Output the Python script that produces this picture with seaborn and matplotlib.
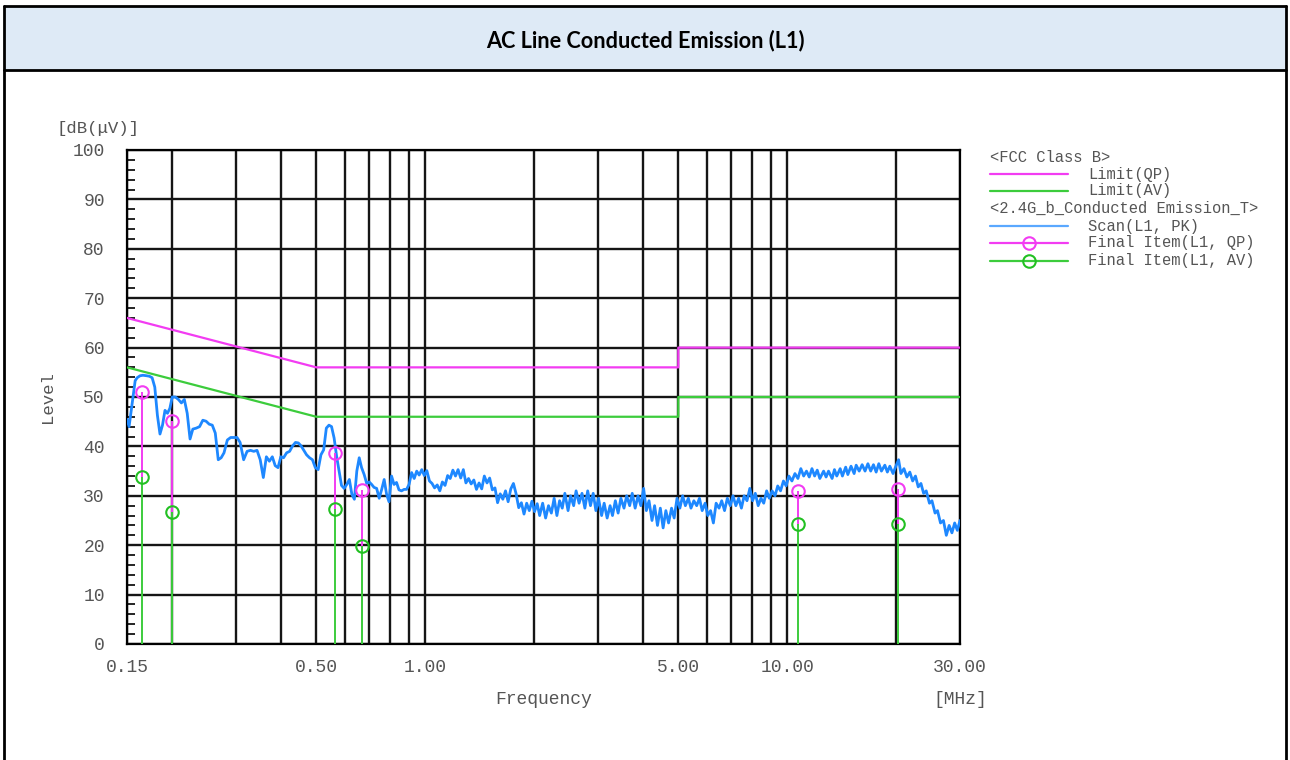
import numpy as np
import pandas as pd
import matplotlib
matplotlib.use("Agg")
import matplotlib.pyplot as plt
import seaborn as sns
from matplotlib.patches import Rectangle
from matplotlib.lines import Line2D
from matplotlib.ticker import FixedLocator, FixedFormatter, NullFormatter, MultipleLocator, LogLocator

# ---------------- data ----------------
title = "AC Line Conducted Emission (L1)"

# FCC Class B limits (MHz, dBuV)
limit_qp_freq = [0.15, 0.5, 5.0, 5.0, 30.0]
limit_qp_level = [66.0, 56.0, 56.0, 60.0, 60.0]
limit_av_freq = [0.15, 0.5, 5.0, 5.0, 30.0]
limit_av_level = [56.0, 46.0, 46.0, 50.0, 50.0]

# Final measurement items
final_freq = [0.165, 0.200, 0.564, 0.670, 10.73, 20.27]
final_qp = [51.1, 45.1, 38.6, 31.2, 31.0, 31.3]
final_av = [33.8, 26.8, 27.3, 19.9, 24.3, 24.3]

# Peak scan (L1, PK)
scan_freq_low = [
    0.150, 0.152, 0.155, 0.158, 0.160, 0.163, 0.166, 0.170, 0.173, 0.176,
    0.179, 0.182, 0.185, 0.188, 0.191, 0.194, 0.197, 0.200,
    0.204, 0.208, 0.212, 0.216, 0.220, 0.224, 0.228, 0.233, 0.238, 0.243,
    0.248, 0.253, 0.258, 0.263, 0.268, 0.273, 0.278, 0.284, 0.290, 0.296, 0.302,
    0.308, 0.315, 0.322, 0.329, 0.336, 0.343, 0.350, 0.357, 0.364, 0.371,
    0.378, 0.385, 0.392, 0.399, 0.406,
    0.414, 0.422, 0.430, 0.438, 0.446, 0.454, 0.462, 0.470, 0.479, 0.488,
    0.497, 0.506, 0.515, 0.524, 0.533, 0.542,
]
scan_level_low = [
    45.5, 44.0, 48.7, 53.3, 53.9, 54.3, 54.4, 54.3, 54.2, 53.9,
    52.0, 46.3, 42.5, 44.3, 47.3, 46.7, 47.7, 50.0,
    50.0, 49.5, 48.8, 49.5, 46.7, 41.5, 43.5, 43.7, 44.0, 45.3,
    45.1, 44.5, 44.3, 42.7, 37.3, 37.7, 38.7, 41.3, 41.8, 41.8, 41.8,
    40.8, 37.3, 39.0, 39.2, 39.0, 39.2, 37.3, 33.7, 37.9, 37.0,
    37.9, 36.1, 35.7, 37.9, 37.7,
    38.7, 39.0, 40.1, 40.8, 40.7, 40.1, 39.2, 38.3, 37.7, 37.3,
    35.7, 35.3, 38.3, 39.3, 43.7, 44.3,
]
scan_freq_mid = [
    0.551, 0.560, 0.569, 0.578, 0.587, 0.597, 0.607, 0.617, 0.627, 0.637,
    0.647, 0.657, 0.667, 0.678, 0.689, 0.700, 0.711, 0.722, 0.734, 0.746,
    0.758, 0.770, 0.782, 0.794, 0.807, 0.820, 0.833, 0.846, 0.860, 0.874,
    0.888, 0.902, 0.917, 0.932, 0.947, 0.962, 0.978, 0.994, 1.010, 1.027,
    1.044, 1.061, 1.079, 1.097, 1.115, 1.134, 1.153, 1.172, 1.192, 1.212,
    1.232, 1.253, 1.274, 1.295, 1.317, 1.339, 1.362, 1.385, 1.408, 1.432,
    1.456, 1.481, 1.506, 1.532, 1.558, 1.584, 1.611, 1.638, 1.666, 1.694,
    1.723, 1.752, 1.782, 1.812, 1.843, 1.874, 1.906, 1.938, 1.971, 2.004,
    2.038,
]
scan_level_mid = [
    44.0, 41.7, 38.0, 35.0, 32.1, 31.5, 32.3, 33.3, 30.3, 29.3,
    35.0, 37.7, 35.7, 34.3, 32.5, 32.8, 32.3, 31.7, 31.5, 29.5,
    31.3, 33.3, 30.3, 28.8, 34.0, 32.3, 32.7, 31.2, 31.0, 31.3,
    31.3, 32.3, 34.7, 33.5, 35.0, 34.2, 35.3, 34.1, 35.1, 33.0,
    32.5, 31.6, 32.2, 31.0, 32.8, 32.1, 34.1, 33.5, 35.2, 34.0,
    35.3, 33.6, 35.3, 32.6, 33.5, 32.4, 33.2, 31.3, 32.6, 31.4,
    34.0, 32.6, 33.6, 31.2, 31.6, 28.6, 30.4, 29.3, 31.0, 28.8,
    31.4, 32.5, 30.4, 27.6, 28.6, 26.3, 28.5, 27.0, 28.9, 26.8,
    28.4,
]
scan_freq_high = [
    2.07, 2.11, 2.15, 2.19, 2.23, 2.27, 2.31, 2.35, 2.39, 2.43,
    2.48, 2.52, 2.57, 2.61, 2.66, 2.71, 2.76, 2.81, 2.86, 2.91,
    2.96, 3.01, 3.07, 3.12, 3.18, 3.24, 3.29, 3.35, 3.41, 3.47,
    3.54, 3.60, 3.67, 3.73, 3.80, 3.87, 3.94, 4.01, 4.08, 4.15,
    4.23, 4.30, 4.38, 4.46, 4.54, 4.62, 4.70, 4.79, 4.87, 4.96,
    5.05, 5.14, 5.23, 5.33, 5.42, 5.52, 5.62, 5.72, 5.82, 5.93,
    6.03, 6.14, 6.25, 6.36, 6.48, 6.59, 6.71, 6.83, 6.96, 7.08,
    7.21, 7.34, 7.47, 7.60, 7.74, 7.88, 8.02, 8.16, 8.31, 8.46,
    8.61, 8.77, 8.92, 9.08, 9.25, 9.41, 9.58, 9.76, 9.93, 10.1,
    10.3, 10.5, 10.7, 10.9, 11.1, 11.3, 11.5, 11.7, 11.9, 12.1,
    12.3, 12.6, 12.8, 13.0, 13.3, 13.5, 13.7, 14.0, 14.2, 14.5,
    14.7, 15.0, 15.3, 15.5, 15.8, 16.1, 16.4, 16.7, 17.0, 17.3,
    17.6, 17.9, 18.2, 18.6, 18.9, 19.2, 19.6, 19.9, 20.3, 20.6,
    21.0, 21.4, 21.8, 22.2, 22.6, 23.0, 23.4, 23.8, 24.2, 24.7,
    25.1, 25.6, 26.0, 26.5, 27.0, 27.5, 28.0, 28.5, 29.0, 29.5,
    30.0,
]
scan_level_high = [
    26.0, 28.5, 25.5, 28.0, 26.5, 29.5, 26.0, 29.0, 27.5, 30.5,
    27.0, 30.0, 28.0, 31.0, 28.5, 30.5, 27.5, 31.0, 28.0, 30.5,
    27.0, 29.5, 26.0, 28.5, 25.5, 28.0, 26.0, 29.0, 26.5, 29.5,
    27.5, 30.0, 28.0, 30.5, 27.5, 30.0, 28.0, 31.5, 27.0, 29.0,
    25.0, 28.0, 24.0, 27.5, 23.5, 27.0, 24.5, 27.5, 25.5, 29.5,
    27.5, 30.0, 28.0, 29.5, 27.5, 29.0, 28.0, 29.5, 27.0, 28.5,
    26.0, 27.0, 24.5, 28.5, 27.5, 29.0, 27.0, 29.5, 28.0, 30.0,
    28.0, 29.5, 27.5, 30.0, 29.0, 31.5, 29.0, 30.5, 28.0, 29.5,
    28.5, 31.0, 29.5, 31.0, 30.0, 32.0, 31.0, 33.0, 32.0, 34.0,
    33.0, 34.5, 33.5, 35.5, 34.0, 35.0, 33.8, 35.5, 34.0, 35.2,
    33.5, 35.0, 33.8, 35.0, 33.5, 35.3, 34.0, 35.5, 34.0, 35.8,
    34.3, 36.0, 34.5, 36.2, 35.0, 36.3, 35.0, 36.5, 35.0, 36.3,
    34.8, 36.5, 35.0, 36.2, 34.8, 36.0, 34.5, 35.8, 37.3, 34.5,
    35.5, 33.8, 34.8, 33.0, 34.0, 31.8, 32.5, 30.5, 31.0, 28.5,
    29.0, 26.5, 27.0, 24.5, 25.0, 22.0, 24.0, 22.5, 24.5, 23.0,
    25.0,
]

xtick_values = [0.15, 0.5, 1.0, 5.0, 10.0, 30.0]
xtick_labels = ["0.15", "0.50", "1.00", "5.00", "10.00", "30.00"]

legend_rows = [
    ("header", "<FCC Class B>"),
    ("qp_limit", "Limit(QP)"),
    ("av_limit", "Limit(AV)"),
    ("header", "<2.4G_b_Conducted Emission_T>"),
    ("scan", "Scan(L1, PK)"),
    ("qp_final", "Final Item(L1, QP)"),
    ("av_final", "Final Item(L1, AV)"),
]

# ---------------- style ----------------
MAGENTA = "#f23cf2"
GREEN = "#3ccc3c"
GREEN_MK = "#22c022"
BLUE = "#1e88ff"
GRID = "#151515"
TXT = "#555555"

sns.set_theme(style="white")
plt.rcParams["font.family"] = ["Liberation Mono", "DejaVu Sans"]

W, H = 1290, 760
fig = plt.figure(figsize=(W / 100, H / 100), dpi=100)


def fx(px):
    return px / W


def fy(py):
    return 1 - py / H


# table-like frame
fig.patches.append(Rectangle((fx(4), fy(70)), (1286 - 4) / W, (70 - 6) / H,
                             transform=fig.transFigure, facecolor="#deeaf6",
                             edgecolor="none", zorder=0))
for (x0, y0, x1, y1) in [(4, 6, 1286, 6), (4, 70, 1286, 70), (4, 6, 4, 765), (1286, 6, 1286, 765)]:
    fig.add_artist(Line2D([fx(x0), fx(x1)], [fy(y0), fy(y1)], transform=fig.transFigure,
                          color="black", lw=2.0))
fig.text(0.5, fy(41), title, ha="center", va="center", family=["Lato", "DejaVu Sans"],
         weight="bold", size=15.6, color="black")

# main axes
ax = fig.add_axes([fx(127), fy(644), (960 - 127) / W, (644 - 150) / H])
ax.set_xscale("log")

scan_df = pd.DataFrame({
    "freq": scan_freq_low + scan_freq_mid + scan_freq_high,
    "level": scan_level_low + scan_level_mid + scan_level_high,
})
sns.lineplot(data=scan_df, x="freq", y="level", ax=ax, color=BLUE, lw=2.0,
             sort=False, estimator=None, zorder=3)
sns.lineplot(x=limit_qp_freq, y=limit_qp_level, ax=ax, color=MAGENTA, lw=1.6,
             sort=False, estimator=None, zorder=4)
sns.lineplot(x=limit_av_freq, y=limit_av_level, ax=ax, color=GREEN, lw=1.6,
             sort=False, estimator=None, zorder=4)

ax.vlines(final_freq, 0, final_av, color=GREEN, lw=1.4, zorder=5)
ax.vlines(final_freq, final_av, final_qp, color=MAGENTA, lw=1.4, zorder=5)
ax.plot(final_freq, final_qp, "o", ms=9, mfc="none", mec=MAGENTA, mew=1.5, zorder=6)
ax.plot(final_freq, final_av, "o", ms=9, mfc="none", mec=GREEN_MK, mew=1.5, zorder=6)

ax.set_xlim(0.15, 30)
ax.set_ylim(0, 100)

ax.xaxis.set_major_locator(FixedLocator(xtick_values))
ax.xaxis.set_major_formatter(FixedFormatter(xtick_labels))
ax.xaxis.set_minor_locator(LogLocator(base=10, subs=np.arange(2, 10)))
ax.xaxis.set_minor_formatter(NullFormatter())
ax.yaxis.set_major_locator(MultipleLocator(10))
ax.yaxis.set_minor_locator(MultipleLocator(2))

ax.grid(True, axis="x", which="both", color=GRID, lw=1.7, zorder=1)
ax.grid(True, axis="y", which="major", color=GRID, lw=1.7, zorder=1)
ax.set_axisbelow(True)

ax.tick_params(axis="x", which="both", length=0, pad=11, labelsize=13, labelcolor=TXT)
ax.tick_params(axis="y", which="major", length=0, pad=16, labelsize=13, labelcolor=TXT)
ax.tick_params(axis="y", which="minor", left=True, direction="in", length=6, width=1.2,
               color="black")
for sp in ax.spines.values():
    sp.set_color("black")
    sp.set_linewidth(1.6)
    sp.set_visible(True)

ax.set_xlabel("Frequency", fontsize=13, color=TXT)
ax.xaxis.set_label_coords(0.5, -(700 - 644) / 494)
ax.xaxis.label.set_va("center")
ax.set_ylabel("Level", fontsize=12.5, color=TXT)
ax.yaxis.set_label_coords(-(127 - 47) / 833, 0.5)
ax.yaxis.label.set_va("center")

fig.text(fx(57), fy(128), "[dB(\u03bcV)]", ha="left", va="center", size=12.5, color=TXT)
fig.text(fx(960), fy(700), "[MHz]", ha="center", va="center", size=13, color=TXT)

# legend panel
lax = fig.add_axes([fx(985), fy(272), (1263 - 985) / W, (272 - 145) / H])
lax.set_xlim(985, 1263)
lax.set_ylim(272, 145)
lax.axis("off")
row_y = [157, 174, 191, 208, 226, 243, 261]
styles = {
    "qp_limit": (MAGENTA, None),
    "av_limit": (GREEN, None),
    "scan": ("#5aa8ff", None),
    "qp_final": (MAGENTA, MAGENTA),
    "av_final": (GREEN, GREEN_MK),
}
for (kind, label), yy in zip(legend_rows, row_y):
    if kind == "header":
        lax.text(990, yy, label, ha="left", va="center", size=11.2, color=TXT, clip_on=True)
        continue
    col, mk = styles[kind]
    lax.plot([990, 1068], [yy, yy], color=col, lw=1.6)
    if mk is not None:
        lax.plot([1029], [yy], "o", ms=9, mfc="none", mec=mk, mew=1.5)
    lax.text(1088, yy, label, ha="left", va="center", size=11.2, color=TXT, clip_on=True)

fig.savefig("out.png", dpi=100)
